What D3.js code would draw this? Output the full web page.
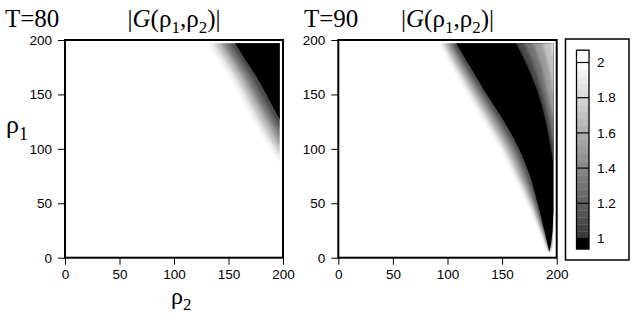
<!DOCTYPE html>
<html>
<head>
<meta charset="utf-8">
<script src="https://cdn.jsdelivr.net/npm/d3@7"></script>
<style>
  body { margin: 0; background: #fff; }
  svg { display: block; }
</style>
</head>
<body>
<svg id="chart" width="632" height="315"></svg>
<script>
// axis ticks and labels
const rhoTicks = [0, 50, 100, 150, 200];
const barTicks = [1, 1.2, 1.4, 1.6, 1.8, 2];
const panelTitles = ["T=80", "T=90"];
const dataEdge = 197;          // image data stops just inside the frame
const barRange = [0.94, 2.07]; // extent of the colour bar

// contour lines, as [rho2, rho1] points
// T=80: each line runs from the top edge to the right edge
const t80Levels = [2, 1.8, 1.6, 1.4, 1.2, 1];
const t80Lines = [
  [[132, 197], [143, 180], [153, 164], [165, 142], [182, 112], [197, 89]],
  [[137, 197], [148, 180], [158, 164], [170, 142], [186, 113], [197, 96]],
  [[142, 197], [153, 180], [163, 164], [175, 142], [190, 115], [197, 103]],
  [[146, 197], [157, 180], [167, 164], [179, 142], [193, 118], [197, 111]],
  [[151, 197], [162, 180], [172, 164], [184, 142], [197, 119]],
  [[156, 197], [166, 181], [177, 164], [189, 142], [197, 127]]
];

// T=90 left side: lines from the top edge down to the tip of the dark tongue
const t90Levels = [2, 1.8, 1.6, 1.4, 1.2, 1];
const t90Lines = [
  [[93, 197], [105, 175], [119, 150], [134, 125], [149, 100], [161.5, 75], [173.5, 50], [184.5, 25], [193.2, 5.5]],
  [[96, 197], [108, 175], [122.5, 150], [137.5, 125], [152, 100], [164, 75], [175.5, 50], [185.5, 25], [193.2, 5.5]],
  [[99, 197], [111, 175], [126, 150], [141, 125], [155.5, 100], [167, 75], [177.5, 50], [186.5, 25], [193.2, 5.5]],
  [[102, 197], [114.5, 175], [129.5, 150], [145, 125], [159, 100], [170, 75], [179.3, 50], [187.3, 25], [193.2, 5.5]],
  [[105, 197], [117.5, 175], [133, 150], [148.5, 125], [162.5, 100], [173, 75], [181, 50], [188, 25], [193.2, 5.5]],
  [[108, 197], [121, 175], [136, 150], [152, 125], [165.5, 100], [175.5, 75], [182.5, 50], [188.7, 25], [193.2, 5.5]]
];
// right flank of the tongue below the tip
const t90TipSide = [[194.8, 12], [196.2, 25], [197, 40]];

// T=90 right side: values rise again towards the right edge
const t90RightLevels = [1, 1.2, 1.4, 1.6, 1.8];
const t90RightLines = [
  [[162.5, 197], [172, 178], [181.7, 154], [189, 128], [194.5, 100], [197, 85]],
  [[170.5, 197], [179, 178], [186.5, 154], [193, 128], [197, 108]],
  [[178.5, 197], [185.5, 178], [191, 154], [195.5, 135], [197, 128]],
  [[187, 197], [192, 178], [195.5, 160], [197, 150]],
  [[195, 197], [197, 185]]
];

// grey colour map: below 1 black, 1..2 dark grey to white
function grey(v) {
  if (v < 1) return "#000";
  const g = Math.max(0, Math.min(255, Math.round(55 + 200 * (v - 1))));
  return `rgb(${g},${g},${g})`;
}

const svg = d3.select("#chart");
const defs = svg.append("defs");
defs.append("filter")
  .attr("id", "soft")
  .attr("x", "-20%").attr("y", "-20%").attr("width", "140%").attr("height", "140%")
  .append("feGaussianBlur").attr("stdDeviation", 1.8);

const sans = "'Liberation Sans', Arial, Helvetica, sans-serif";
const serif = "'Liberation Serif', 'Times New Roman', serif";

const panels = [
  { title: panelTitles[0], left: 65, right: 283, titleX: 5 },
  { title: panelTitles[1], left: 338.3, right: 556.7, titleX: 304 }
];
const plotTop = 40, plotBottom = 257.7;

panels.forEach((p, i) => {
  const x = d3.scaleLinear().domain([0, 200]).range([p.left, p.right]);
  const y = d3.scaleLinear().domain([0, 200]).range([plotBottom, plotTop]);
  const ext = dataEdge + 8;

  // path for the region to the upper right of a contour line
  const smooth = d3.line().x(d => x(d[0])).y(d => y(d[1])).curve(d3.curveCatmullRom);
  const straight = d3.line().x(d => x(d[0])).y(d => y(d[1]));
  function regionPath(line, tail = []) {
    const pts = line.concat(tail);
    const last = pts[pts.length - 1];
    const head = straight([[line[0][0], ext], line[0]]);
    const body = smooth(line).replace(/^M/, "L");
    const rest = straight([...tail, [ext, last[1]], [ext, ext], [line[0][0], ext]]).replace(/^M/, "L");
    return head + body + rest + "Z";
  }

  const clipId = `clip${i}`;
  defs.append("clipPath").attr("id", clipId)
    .append("rect")
    .attr("x", x(0)).attr("y", y(dataEdge))
    .attr("width", x(dataEdge) - x(0)).attr("height", y(0) - y(dataEdge));

  const g = svg.append("g").attr("clip-path", `url(#${clipId})`);

  const levels = i === 0 ? t80Levels : t90Levels;
  const lines = i === 0 ? t80Lines : t90Lines;
  const tail = i === 0 ? [] : t90TipSide;

  // graded bands (soft), then the dark region on top with a sharp edge
  const soft = g.append("g").attr("filter", "url(#soft)");
  levels.forEach((lv, k) => {
    if (lv <= 1) return;
    soft.append("path")
      .attr("d", regionPath(lines[k], tail))
      .attr("fill", grey(lv - 0.1));
  });
  const k1 = levels.indexOf(1);
  g.append("path")
    .attr("d", regionPath(lines[k1], tail))
    .attr("fill", "#000");

  if (i === 1) {
    const rClip = "clipR";
    defs.append("clipPath").attr("id", rClip)
      .append("path").attr("d", regionPath(t90RightLines[0]));
    const rg = g.append("g").attr("clip-path", `url(#${rClip})`)
      .append("g").attr("filter", "url(#soft)");
    t90RightLevels.forEach((lv, k) => {
      rg.append("path")
        .attr("d", regionPath(t90RightLines[k]))
        .attr("fill", grey(lv + 0.1));
    });
  }

  // axes
  const ax = svg.append("g").attr("transform", `translate(0,${plotBottom})`)
    .call(d3.axisBottom(x).tickValues(rhoTicks).tickSize(7).tickPadding(5));
  const ay = svg.append("g").attr("transform", `translate(${p.left},0)`)
    .call(d3.axisLeft(y).tickValues(rhoTicks).tickSize(7).tickPadding(6));
  [ax, ay].forEach(a => {
    a.select(".domain").remove();
    a.selectAll("line").attr("stroke", "#000").attr("stroke-width", 1);
    a.selectAll("text").attr("fill", "#000")
      .style("font-family", sans).style("font-size", "13.5px");
  });

  // frame
  svg.append("rect")
    .attr("x", p.left).attr("y", plotTop)
    .attr("width", p.right - p.left).attr("height", plotBottom - plotTop)
    .attr("fill", "none").attr("stroke", "#000").attr("stroke-width", 2);

  // titles
  svg.append("text")
    .attr("x", p.titleX).attr("y", 27)
    .style("font-family", serif).style("font-size", "25px")
    .text(p.title);

  const t = svg.append("text")
    .attr("x", (p.left + p.right) / 2).attr("y", 27)
    .attr("text-anchor", "middle")
    .style("font-family", serif).style("font-size", "25px");
  t.append("tspan").text("|");
  t.append("tspan").style("font-style", "italic").text("G");
  t.append("tspan").text("(ρ");
  t.append("tspan").attr("dy", 6).style("font-size", "17px").text("1");
  t.append("tspan").attr("dy", -6).text(",ρ");
  t.append("tspan").attr("dy", 6).style("font-size", "17px").text("2");
  t.append("tspan").attr("dy", -6).text(")|");
});

// axis titles (left panel only)
const yl = svg.append("text").attr("x", 6).attr("y", 133)
  .style("font-family", serif).style("font-size", "26px");
yl.append("tspan").text("ρ");
yl.append("tspan").attr("dy", 7).style("font-size", "18px").text("1");

const xl = svg.append("text").attr("x", 171).attr("y", 304)
  .style("font-family", serif).style("font-size", "24px");
xl.append("tspan").text("ρ");
xl.append("tspan").attr("dy", 6).style("font-size", "17px").text("2");

// colour bar
const cb = d3.scaleLinear().domain([1, 2]).range([238.5, 62.5]);
const barX = 576.5, barW = 12.5;
svg.append("rect")
  .attr("x", 565.5).attr("y", 39).attr("width", 63.5).attr("height", 221)
  .attr("fill", "#fff").attr("stroke", "#000").attr("stroke-width", 1.5);

const steps = d3.range(0, 25).map(j => 1 + j * 0.04);
svg.append("rect")
  .attr("x", barX).attr("y", cb(1)).attr("width", barW).attr("height", cb(barRange[0]) - cb(1))
  .attr("fill", "#000");
svg.selectAll(".step").data(steps).join("rect")
  .attr("class", "step")
  .attr("x", barX).attr("y", d => cb(d + 0.04))
  .attr("width", barW).attr("height", d => cb(d) - cb(d + 0.04) + 0.3)
  .attr("fill", d => grey(d + 0.02));
svg.append("rect")
  .attr("x", barX).attr("y", cb(barRange[1])).attr("width", barW).attr("height", cb(2) - cb(barRange[1]))
  .attr("fill", "#fff");
svg.append("rect")
  .attr("x", barX).attr("y", cb(barRange[1])).attr("width", barW)
  .attr("height", cb(barRange[0]) - cb(barRange[1]))
  .attr("fill", "none").attr("stroke", "#000").attr("stroke-width", 1.3);
svg.selectAll(".btick").data(barTicks).join("line")
  .attr("class", "btick")
  .attr("x1", barX).attr("x2", barX + barW)
  .attr("y1", d => cb(d)).attr("y2", d => cb(d))
  .attr("stroke", "#000").attr("stroke-width", 1.2);
svg.selectAll(".blabel").data(barTicks).join("text")
  .attr("class", "blabel")
  .attr("x", 597).attr("y", d => cb(d))
  .attr("dy", "0.35em")
  .style("font-family", sans).style("font-size", "13.5px")
  .text(d => d3.format("")(d));
</script>
</body>
</html>
